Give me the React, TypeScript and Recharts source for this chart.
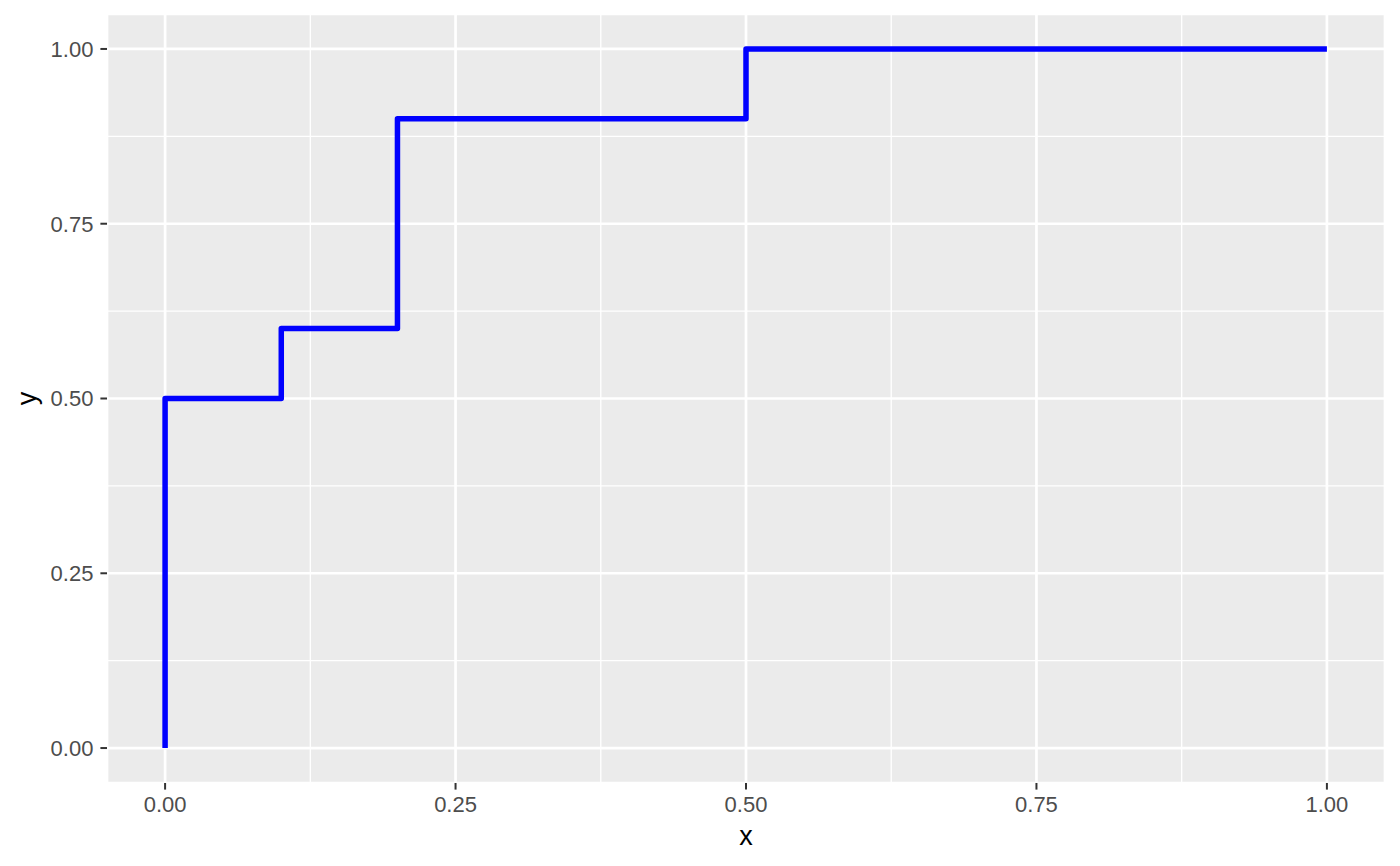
import React from 'react';
import { LineChart, Line, XAxis, YAxis, CartesianGrid, ReferenceLine } from 'recharts';

// step curve
const xValues = [0, 0, 0.1, 0.1, 0.2, 0.2, 0.5, 0.5, 1];
const yValues = [0, 0.5, 0.5, 0.6, 0.6, 0.9, 0.9, 1, 1];
const majorTicks = [0, 0.25, 0.5, 0.75, 1];
const minorTicks = [0.125, 0.375, 0.625, 0.875];

const data = xValues.map((x, i) => ({ x, y: yValues[i] }));

const font = '"Liberation Sans", Arial, Helvetica, sans-serif';
const tickStyle = { fill: '#4d4d4d', fontSize: 22, fontFamily: font };

export default function App() {
  return (
    <div style={{ position: 'absolute', left: 0, top: 0, width: 1400, height: 866, background: '#fff' }}>
      <LineChart width={1400} height={866} data={data} margin={{ top: 14, right: 15, bottom: 0, left: 0 }}>
        <CartesianGrid fill="#ebebeb" stroke="#ffffff" strokeWidth={2.7} />
        {minorTicks.map((v) => (
          <ReferenceLine key={'vx' + v} x={v} stroke="#ffffff" strokeWidth={1.35} />
        ))}
        {minorTicks.map((v) => (
          <ReferenceLine key={'hy' + v} y={v} stroke="#ffffff" strokeWidth={1.35} />
        ))}
        <XAxis
          dataKey="x"
          type="number"
          domain={[-0.05, 1.05]}
          ticks={majorTicks}
          tickFormatter={(v: number) => v.toFixed(2)}
          height={83}
          axisLine={false}
          tickLine={{ stroke: '#333333', strokeWidth: 2 }}
          tickSize={6.6}
          tickMargin={7}
          tick={tickStyle}
          label={{ value: 'x', position: 'insideBottom', offset: 21, fill: '#000', fontSize: 27, fontFamily: font }}
        />
        <YAxis
          dataKey="y"
          type="number"
          domain={[-0.05, 1.05]}
          ticks={majorTicks}
          tickFormatter={(v: number) => v.toFixed(2)}
          width={107}
          axisLine={false}
          tickLine={{ stroke: '#333333', strokeWidth: 2 }}
          tickSize={6.6}
          tickMargin={7}
          tick={tickStyle}
          label={{
            content: (props: any) => {
              const vb = props.viewBox || {};
              const cy = (vb.y || 0) + (vb.height || 0) / 2;
              return (
                <text
                  x={27}
                  y={cy}
                  transform={`rotate(-90 27 ${cy})`}
                  textAnchor="middle"
                  dominantBaseline="central"
                  fill="#000"
                  fontSize={27}
                  fontFamily={font}
                >
                  y
                </text>
              );
            },
          }}
        />
        <Line
          type="linear"
          dataKey="y"
          stroke="#0000ff"
          strokeWidth={5.5}
          strokeLinejoin="round"
          strokeLinecap="butt"
          dot={false}
          activeDot={false}
          isAnimationActive={false}
        />
      </LineChart>
    </div>
  );
}
